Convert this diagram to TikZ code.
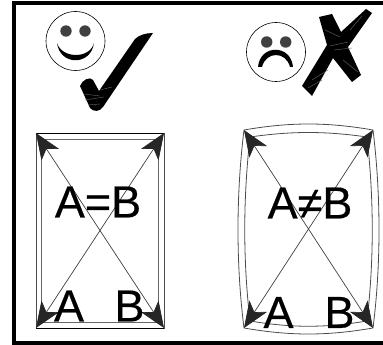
\documentclass[tikz,border=0pt]{standalone}
\usepackage{fontspec}
\setmainfont[FakeBold=0.4]{Liberation Sans}
\usetikzlibrary{arrows.meta}
\tikzset{
 lbl/.style={font=\fontsize{45}{45}\selectfont,inner sep=0pt,text=black},
 diag/.style={draw=black!75,line width=0.7pt,
   {Stealth[length=26pt,width=21pt,inset=7pt,color=black!85]}-{Stealth[length=26pt,width=21pt,inset=7pt,color=black!85]}},
 edge/.style={draw=black!70,line width=0.8pt},
 streak/.style={draw=black!60,line width=0.4pt}
}
\begin{document}
\begin{tikzpicture}[x=1pt,y=-1pt]
\useasboundingbox (0,0) rectangle (383,345);
\draw[line width=4pt] (383,3.5) -- (13.5,3.5) -- (13.5,342.5) -- (383,342.5);
% happy face
\draw[line width=0.6pt] (75.5,41) circle (29.5);
\fill[black!75] (66,31) circle (5.7) (85,31) circle (5.7);
\fill[black] (57,43) .. controls (60,66) and (91,66) .. (94,43) .. controls (90,59) and (62,59) .. (57,43) -- cycle;
% check
\fill[black] (80,86) .. controls (82,80) and (90,76) .. (93,80) -- (99,91)
 -- (135,39) .. controls (139,35) and (146,33) .. (153,33) -- (103,107)
 .. controls (100,112) and (93,112) .. (90,108) -- cycle;
\draw[streak] (84,94) -- (100,96) (85,100) -- (104,97) (88,105) -- (100,104) (100,90) -- (112,87);
% sad face
\draw[line width=0.6pt] (276,52) circle (29.5);
\fill[black!75] (266.7,42) circle (5.7) (285.7,42) circle (5.7);
\fill[black] (258,67) .. controls (260,44) and (291,44) .. (293,67) -- (290,67) .. controls (286,51) and (266,51) .. (262,67) -- cycle;
% cross
\fill[black] (319,17) -- (332,14) -- (341,32) -- (366,9) -- (372,13) -- (348,47) -- (361,75) -- (352,82) -- (333,58) -- (312,96) -- (302,86) -- (327,45) -- cycle;
\draw[streak] (325,30) -- (340,37) (330,46) -- (348,42) (334,50) -- (352,48) (312,80) -- (328,70) (308,88) -- (322,80) (343,60) -- (358,72) (350,30) -- (362,16);
% left box
\coordinate (la) at (36,133); \coordinate (lb) at (164,133);
\coordinate (lc) at (36,328); \coordinate (ld) at (164,328);
\draw[edge] (la) rectangle (ld);
\draw[edge,line width=1pt,draw=black!60] (41,139) rectangle (158,322);
\draw[black,line width=0.8pt] (la) -- (lb) (lc) -- (ld);
\draw[diag] (la) -- (ld);
\draw[diag] (lb) -- (lc);
\node[lbl] (leq) at (98,202) {A=B};
\node[lbl] (la1) at (69,306) {A};
\node[lbl] (lb1) at (129.5,306) {B};
% right box
\coordinate (ra) at (244,130); \coordinate (rb) at (373,130);
\coordinate (rc) at (244,328); \coordinate (rd) at (373,328);
\draw[edge] (ra) .. controls (290,122) and (327,122) .. (rb)
  .. controls (381,195) and (381,265) .. (rd)
  .. controls (327,336) and (290,336) .. (rc)
  .. controls (236,265) and (236,195) .. (ra) -- cycle;
\draw[edge] (250,137) .. controls (292,131) and (325,131) .. (367,137)
  .. controls (374,200) and (374,260) .. (367,321)
  .. controls (325,328) and (292,328) .. (250,321)
  .. controls (243,260) and (243,200) .. (250,137) -- cycle;
\draw[diag] (ra) -- (rd);
\draw[diag] (rb) -- (rc);
\node[lbl] (rne) at (310,203) {A≠B};
\node[lbl] (ra1) at (278.5,312.5) {A};
\node[lbl] (rb1) at (339.5,312.5) {B};
\end{tikzpicture}
\end{document}
